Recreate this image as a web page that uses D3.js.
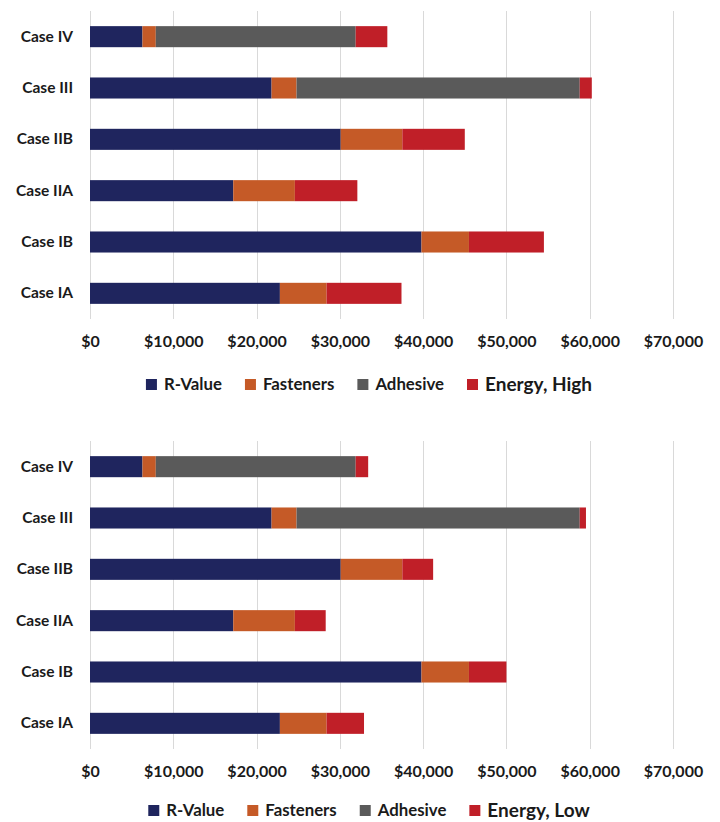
<!DOCTYPE html>
<html>
<head>
<meta charset="utf-8">
<script src="https://cdn.jsdelivr.net/npm/d3@7"></script>
<style>
  html, body { margin: 0; padding: 0; background: #ffffff; }
  svg { display: block; font-family: "Lato", "Open Sans", sans-serif; font-weight: bold; }
</style>
</head>
<body>
<svg id="chart" width="720" height="822"></svg>
<script>
// Cases, listed top to bottom as they appear on each chart
const cases = ["Case IV", "Case III", "Case IIB", "Case IIA", "Case IB", "Case IA"];

// Cost components per case (USD)
const rValue     = [6300, 21800, 30100, 17200, 39800, 22800];
const fasteners  = [1600,  3000,  7400,  7400,  5700,  5600];
const adhesive   = [24000, 34000,    0,     0,     0,     0];
const energyHigh = [3800,  1450,  7500,  7500,  9000,  9000];
const energyLow  = [1500,   750,  3700,  3700,  4500,  4500];

const xTicks = [0, 10000, 20000, 30000, 40000, 50000, 60000, 70000];

const seriesNames = ["R-Value", "Fasteners", "Adhesive"];
const colors = ["#1f255e", "#c55a27", "#5a5a5a", "#c01f28"];

const svg = d3.select("#chart");
const fmt = d3.format("$,");

function drawChart(top, energy, energyLabel, legendOffset) {
  const plotTop = top, plotBottom = top + 308;
  const x = d3.scaleLinear().domain([0, 70000]).range([90, 673]);
  const y = d3.scaleBand().domain(cases).range([plotTop, plotBottom]).paddingInner(0.59).paddingOuter(0.295);

  const g = svg.append("g");

  // vertical gridlines
  g.append("g").selectAll("line").data(xTicks).join("line")
    .attr("x1", d => Math.round(x(d)) + 0.5).attr("x2", d => Math.round(x(d)) + 0.5)
    .attr("y1", plotTop).attr("y2", plotBottom)
    .attr("stroke", "#d9d9d9").attr("stroke-width", 1);

  // stacked bars
  const rows = cases.map((c, i) => ({
    case: c, "R-Value": rValue[i], "Fasteners": fasteners[i], "Adhesive": adhesive[i], "Energy": energy[i]
  }));
  const keys = ["R-Value", "Fasteners", "Adhesive", "Energy"];
  const stacked = d3.stack().keys(keys)(rows);
  g.append("g").selectAll("g").data(stacked).join("g")
    .attr("fill", (d, i) => colors[i])
    .selectAll("rect").data(d => d.filter(p => p[1] > p[0])).join("rect")
    .attr("x", d => x(d[0]))
    .attr("y", d => y(d.data.case))
    .attr("width", d => x(d[1]) - x(d[0]))
    .attr("height", y.bandwidth());

  // category labels
  const yAxis = d3.axisLeft(y).tickSize(0).tickPadding(17);
  const ya = g.append("g").attr("transform", "translate(90,0)").call(yAxis);
  ya.select(".domain").remove();
  ya.selectAll("text").attr("font-size", 15.5).attr("fill", "#1a1a1a")
    .attr("font-family", "Lato, sans-serif").attr("font-weight", "bold");

  // value axis labels
  const xAxis = d3.axisBottom(x).tickValues(xTicks).tickFormat(fmt).tickSize(0).tickPadding(17);
  const xa = g.append("g").attr("transform", `translate(0,${plotBottom})`).call(xAxis);
  xa.select(".domain").remove();
  xa.selectAll("text").attr("font-size", 16).attr("fill", "#1a1a1a")
    .attr("font-family", "Lato, sans-serif").attr("font-weight", "bold");

  // legend
  const legendY = plotBottom + legendOffset;
  const items = seriesNames.map((n, i) => ({ name: n, color: colors[i], size: 16.8 }))
    .concat([{ name: energyLabel, color: colors[3], size: 19 }]);
  const lg = g.append("g");
  let cx = 0;
  items.forEach(it => {
    const ig = lg.append("g");
    ig.append("rect").attr("x", cx).attr("y", legendY - 5).attr("width", 11).attr("height", 11).attr("fill", it.color);
    const t = ig.append("text").attr("x", cx + 18).attr("y", legendY).attr("dy", "0.35em")
      .attr("font-size", it.size).attr("fill", "#1a1a1a").text(it.name);
    cx += 18 + t.node().getComputedTextLength() + 23;
  });
  const totalW = cx - 23;
  lg.attr("transform", `translate(${369 - totalW / 2},0)`);
}

drawChart(11, energyHigh, "Energy, High", 65);
drawChart(441, energyLow, "Energy, Low", 61);
</script>
</body>
</html>
